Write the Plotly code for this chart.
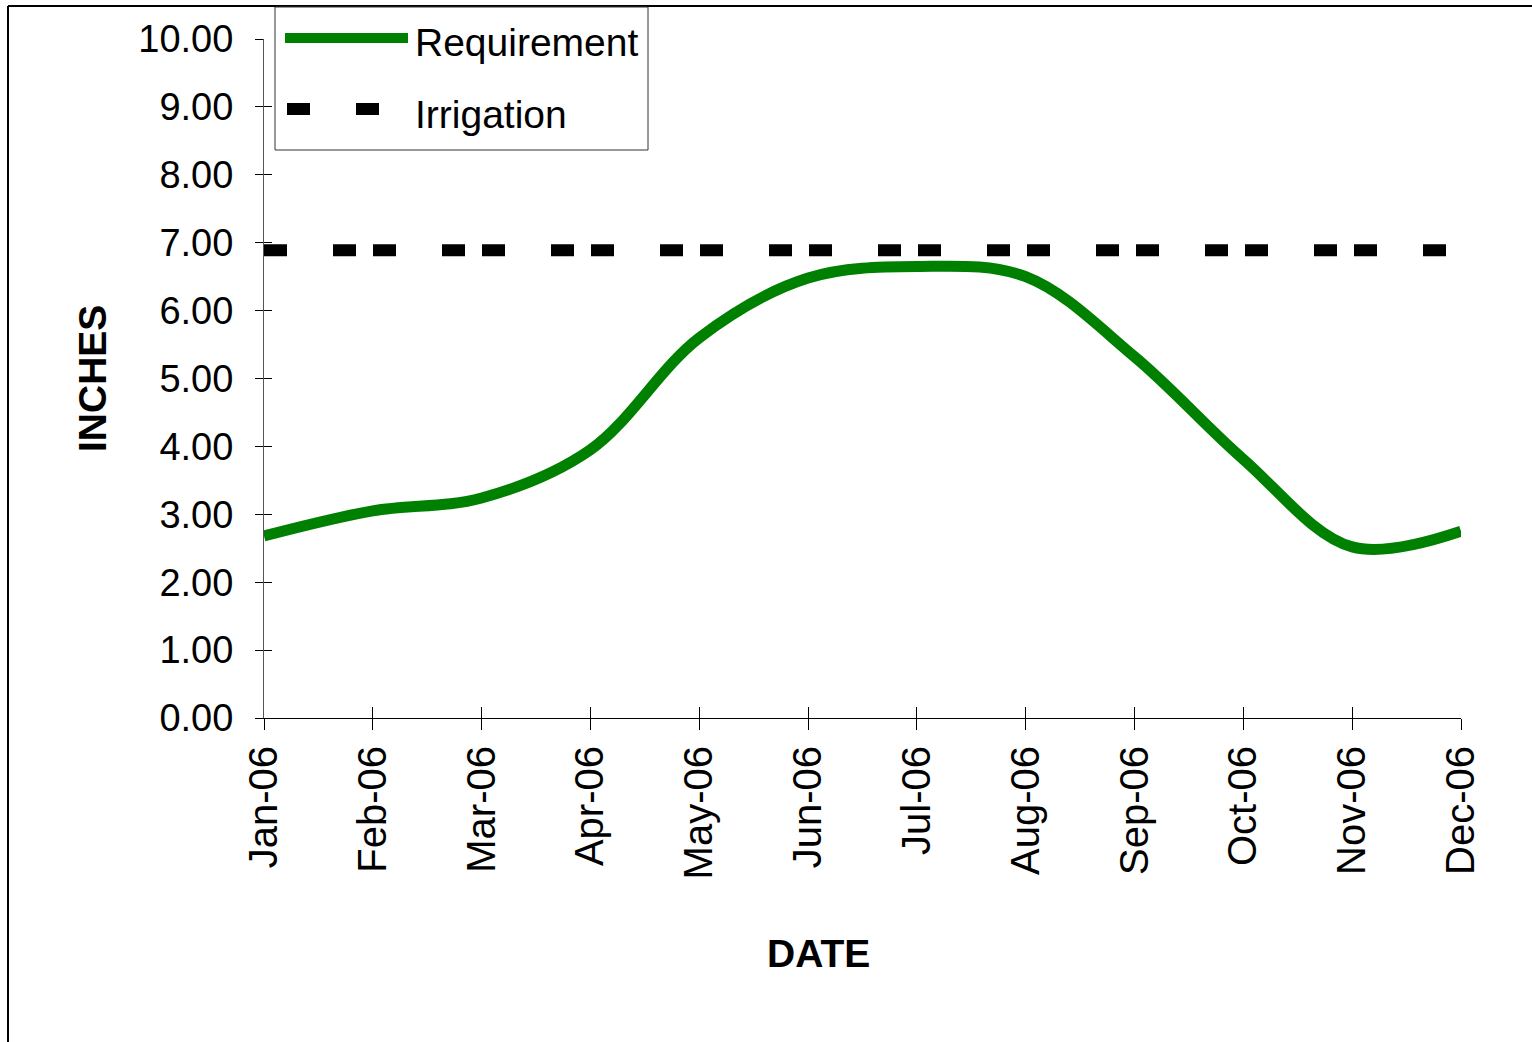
import plotly.graph_objects as go

# Monthly crop water requirement vs. applied irrigation (inches), 2006
months = ["Jan-06", "Feb-06", "Mar-06", "Apr-06", "May-06", "Jun-06",
          "Jul-06", "Aug-06", "Sep-06", "Oct-06", "Nov-06", "Dec-06"]
requirement = [2.68, 3.05, 3.24, 3.95, 5.60, 6.48, 6.65, 6.50, 5.32, 3.81, 2.52, 2.75]
irrigation = [6.89] * len(months)
y_ticks = [0, 1, 2, 3, 4, 5, 6, 7, 8, 9, 10]

W, H = 1532, 1042
L, R, T, B = 264, 1461, 39, 718   # plot area in pixels

def px(xp):
    return (xp - L) / (R - L)

def py(yp):
    return (B - yp) / (B - T)

FONT = "Liberation Sans, Arial, sans-serif"

fig = go.Figure()
fig.add_trace(go.Scatter(
    x=months, y=requirement, name="Requirement", mode="lines",
    line=dict(color="#008000", width=11, shape="spline", smoothing=1),
    showlegend=False))
fig.add_trace(go.Scatter(
    x=months, y=irrigation, name="Irrigation", mode="lines",
    line=dict(color="#000000", width=12, dash="23px,46px,23px,17px"),
    showlegend=False))
# empty trace so the overlay axes (inner half of the crossing ticks) are drawn
fig.add_trace(go.Scatter(x=[], y=[], xaxis="x2", yaxis="y2",
                         showlegend=False, hoverinfo="skip"))

fig.update_layout(
    width=W, height=H,
    margin=dict(l=L, r=W - R, t=T, b=H - B),
    paper_bgcolor="white", plot_bgcolor="white",
    font=dict(family=FONT, color="black"),
    xaxis=dict(type="category", range=[0, len(months) - 1],
               showgrid=False, zeroline=False,
               showline=True, linecolor="black", linewidth=1,
               ticks="outside", ticklen=11, tickwidth=1, tickcolor="black",
               tickangle=-90, tickfont=dict(size=40, family=FONT),
               ticklabelstandoff=0),
    yaxis=dict(range=[0, 10], tickvals=y_ticks,
               ticktext=[f"{v:.2f}" for v in y_ticks],
               showgrid=False, zeroline=False,
               showline=True, linecolor="#555555", linewidth=1,
               ticks="outside", ticklen=8, tickwidth=1, tickcolor="black",
               tickfont=dict(size=38, family=FONT),
               ticklabelstandoff=14),
    xaxis2=dict(overlaying="x", anchor="y", range=[0, len(months) - 1],
                dtick=1, showgrid=False, zeroline=False, showline=False,
                ticks="inside", ticklen=11, tickwidth=1, tickcolor="black",
                showticklabels=False, side="bottom"),
    yaxis2=dict(overlaying="y", anchor="x", range=[0, 10], tickvals=y_ticks,
                showgrid=False, zeroline=False, showline=False,
                ticks="inside", ticklen=8, tickwidth=1, tickcolor="black",
                showticklabels=False, side="left"),
)

shapes = [
    # chart frame (top and left edges)
    dict(type="line", xref="paper", yref="paper",
         x0=px(8), x1=px(W), y0=py(6), y1=py(6),
         line=dict(color="black", width=2)),
    dict(type="line", xref="paper", yref="paper",
         x0=px(8), x1=px(8), y0=py(6), y1=py(H),
         line=dict(color="black", width=2)),
    # legend box
    dict(type="rect", xref="paper", yref="paper",
         x0=px(275), x1=px(648), y0=py(150), y1=py(7),
         line=dict(color="#333333", width=1), fillcolor="white", layer="above"),
    # legend samples
    dict(type="line", xref="paper", yref="paper",
         x0=px(285), x1=px(408), y0=py(38), y1=py(38),
         line=dict(color="#008000", width=10), layer="above"),
    dict(type="line", xref="paper", yref="paper",
         x0=px(287), x1=px(380), y0=py(109), y1=py(109),
         line=dict(color="black", width=12, dash="23px,46px"), layer="above"),
]

annotations = [
    dict(text="Requirement", xref="paper", yref="paper",
         x=px(413), y=py(43), xanchor="left", yanchor="middle",
         showarrow=False, font=dict(size=39, family=FONT)),
    dict(text="Irrigation", xref="paper", yref="paper",
         x=px(413), y=py(114), xanchor="left", yanchor="middle",
         showarrow=False, font=dict(size=39, family=FONT)),
    dict(text="<b>INCHES</b>", xref="paper", yref="paper",
         x=px(92), y=py(379), xanchor="center", yanchor="middle",
         textangle=-90, showarrow=False, font=dict(size=39, family=FONT)),
    dict(text="<b>DATE</b>", xref="paper", yref="paper",
         x=px(818), y=py(953), xanchor="center", yanchor="middle",
         showarrow=False, font=dict(size=39, family=FONT)),
]

fig.update_layout(shapes=shapes, annotations=annotations)
fig.write_html("out.html")
